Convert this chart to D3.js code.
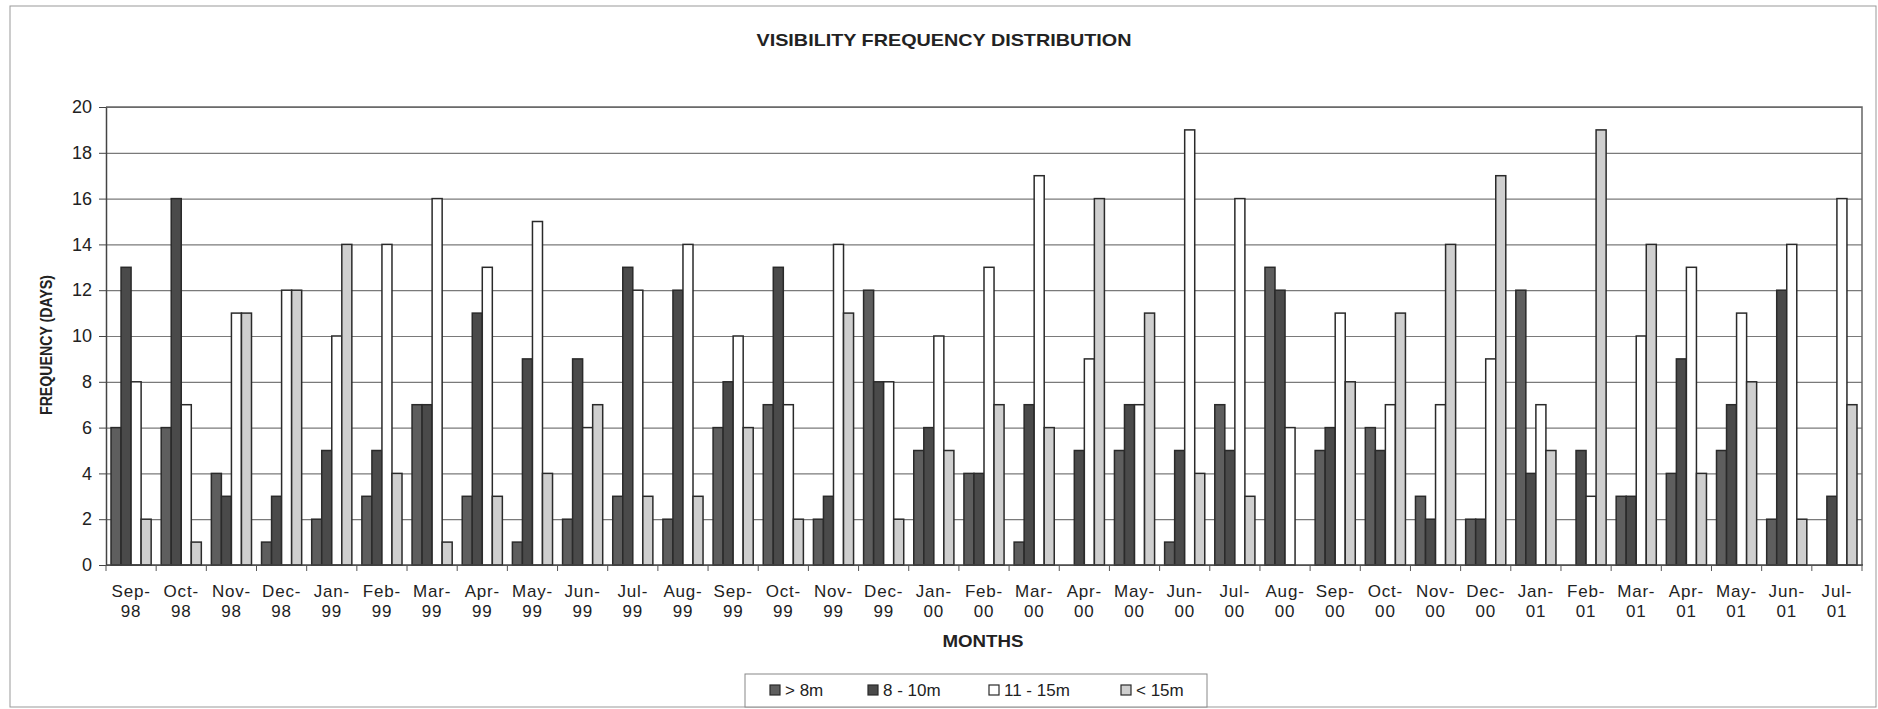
<!DOCTYPE html>
<html>
<head>
<meta charset="utf-8">
<script src="https://cdn.jsdelivr.net/npm/d3@7"></script>
<style>
	body { margin: 0; background: #fff; }
	svg text { font-family: "Liberation Sans", Arial, sans-serif; fill: #222; }
</style>
</head>
<body>
<div id="chart"></div>
<script>

// ---------------------------------------------------------------- donnees
const months = ["Sep-98","Oct-98","Nov-98","Dec-98","Jan-99","Feb-99","Mar-99","Apr-99","May-99","Jun-99",
	"Jul-99","Aug-99","Sep-99","Oct-99","Nov-99","Dec-99","Jan-00","Feb-00","Mar-00","Apr-00",
	"May-00","Jun-00","Jul-00","Aug-00","Sep-00","Oct-00","Nov-00","Dec-00","Jan-01","Feb-01",
	"Mar-01","Apr-01","May-01","Jun-01","Jul-01"];

const seriesNames = ["> 8m", "8 - 10m", "11 - 15m", "< 15m"];

const over8 =    [6,6,4,1,2,3,7,3,1,2, 3,2,6,7,2,12,5,4,1,0, 5,1,7,13,5,6,3,2,12,0, 3,4,5,2,0];
const from8to10 = [13,16,3,3,5,5,7,11,9,9, 13,12,8,13,3,8,6,4,7,5, 7,5,5,12,6,5,2,2,4,5, 3,9,7,12,3];
const from11to15 = [8,7,11,12,10,14,16,13,15,6, 12,14,10,7,14,8,10,13,17,9, 7,19,16,6,11,7,7,9,7,3, 10,13,11,14,16];
const under15 =  [2,1,11,12,14,4,1,3,4,7, 3,3,6,2,11,2,5,7,6,16, 11,4,3,0,8,11,14,17,5,19, 14,4,8,2,7];

const yTicks = [0,2,4,6,8,10,12,14,16,18,20];

const series = [over8, from8to10, from11to15, under15];
const colors = ["#5e5e5e", "#4a4a4a", "#ffffff", "#cfcfcf"];

// ---------------------------------------------------------------- dimensions
const W = 1878, H = 709;
const plot = { left: 106, right: 1862, top: 107, bottom: 565 };

const svg = d3.select("#chart").append("svg")
	.attr("width", W)
	.attr("height", H);

// cadre exterieur
svg.append("rect")
	.attr("x", 10).attr("y", 6)
	.attr("width", 1866).attr("height", 701)
	.attr("fill", "none")
	.attr("stroke", "#999")
	.attr("stroke-width", 1);

const x = d3.scaleBand()
	.domain(months)
	.range([plot.left, plot.right])
	.paddingInner(0.2)
	.paddingOuter(0.1);

const xs = d3.scaleBand()
	.domain(d3.range(series.length))
	.range([0, x.bandwidth()]);

const y = d3.scaleLinear()
	.domain([0, 20])
	.range([plot.bottom, plot.top]);

// grille
svg.append("g")
	.attr("transform", "translate(" + plot.left + ",0)")
	.call(d3.axisLeft(y).tickValues(yTicks).tickSize(-(plot.right - plot.left)).tickFormat(""))
	.call(g => g.select(".domain").remove())
	.call(g => g.selectAll("line").attr("stroke", "#7a7a7a").attr("stroke-width", 1.2));

// cadre du graphe (haut + droite)
svg.append("path")
	.attr("d", "M" + plot.left + "," + plot.top + "H" + plot.right + "V" + plot.bottom)
	.attr("fill", "none")
	.attr("stroke", "#666")
	.attr("stroke-width", 1.5);

// axe Y
svg.append("g")
	.attr("transform", "translate(" + plot.left + ",0)")
	.call(d3.axisLeft(y).tickValues(yTicks).tickSize(7).tickPadding(7).tickSizeOuter(0))
	.call(g => g.select(".domain").attr("stroke", "#444").attr("stroke-width", 1.5))
	.call(g => g.selectAll("line").attr("stroke", "#444"))
	.call(g => g.selectAll("text").style("font-size", "18px").attr("fill", "#222"));

// barres
const groups = svg.append("g").selectAll("g")
	.data(months)
	.join("g")
	.attr("transform", d => "translate(" + x(d) + ",0)");

groups.selectAll("rect")
	.data((m, i) => series.map((s, k) => ({ k: k, v: s[i] })))
	.join("rect")
	.filter(d => d.v > 0)
	.attr("x", d => xs(d.k))
	.attr("y", d => y(d.v))
	.attr("width", xs.bandwidth())
	.attr("height", d => y(0) - y(d.v))
	.attr("fill", d => colors[d.k])
	.attr("stroke", "#2a2a2a")
	.attr("stroke-width", 1.5);

// axe X
const xAxis = svg.append("g")
	.attr("transform", "translate(0," + plot.bottom + ")");

xAxis.append("line")
	.attr("x1", plot.left).attr("x2", plot.right + 1)
	.attr("stroke", "#444").attr("stroke-width", 1.5);

xAxis.selectAll(".sep")
	.data(d3.range(months.length + 1))
	.join("line")
	.attr("class", "sep")
	.attr("x1", i => plot.left + i * x.step())
	.attr("x2", i => plot.left + i * x.step())
	.attr("y1", 0).attr("y2", 6)
	.attr("stroke", "#555");

const labels = xAxis.selectAll(".lab")
	.data(months)
	.join("text")
	.attr("class", "lab")
	.attr("text-anchor", "middle")
	.attr("transform", d => "translate(" + (x(d) + x.bandwidth() / 2) + ",0)")
	.style("font-size", "17px")
	.style("letter-spacing", "0.8px");

labels.append("tspan").attr("x", 0).attr("y", 32).text(d => d.split("-")[0] + "-");
labels.append("tspan").attr("x", 0).attr("y", 52).text(d => d.split("-")[1]);

// titres
svg.append("text")
	.attr("x", 944).attr("y", 46)
	.attr("text-anchor", "middle")
	.attr("textLength", 375)
	.attr("lengthAdjust", "spacingAndGlyphs")
	.style("font-size", "17px")
	.style("font-weight", "bold")
	.text("VISIBILITY FREQUENCY DISTRIBUTION");

svg.append("text")
	.attr("transform", "translate(52,345) rotate(-90)")
	.attr("text-anchor", "middle")
	.attr("textLength", 140)
	.attr("lengthAdjust", "spacingAndGlyphs")
	.style("font-size", "16px")
	.style("font-weight", "bold")
	.text("FREQUENCY (DAYS)");

svg.append("text")
	.attr("x", 983).attr("y", 647)
	.attr("text-anchor", "middle")
	.attr("textLength", 81)
	.attr("lengthAdjust", "spacingAndGlyphs")
	.style("font-size", "17px")
	.style("font-weight", "bold")
	.text("MONTHS");

// legende
const legend = svg.append("g");

legend.append("rect")
	.attr("x", 745).attr("y", 674)
	.attr("width", 462).attr("height", 33)
	.attr("fill", "#fff")
	.attr("stroke", "#888");

const legendX = [770, 868, 989, 1121];

const items = legend.selectAll(".item")
	.data(seriesNames)
	.join("g")
	.attr("class", "item")
	.attr("transform", (d, i) => "translate(" + legendX[i] + ",690)");

items.append("rect")
	.attr("x", 0).attr("y", -5)
	.attr("width", 10).attr("height", 10)
	.attr("fill", (d, i) => colors[i])
	.attr("stroke", "#2a2a2a")
	.attr("stroke-width", 1.2);

items.append("text")
	.attr("x", 15).attr("y", 6)
	.style("font-size", "17px")
	.text(d => d);

</script>
</body>
</html>
